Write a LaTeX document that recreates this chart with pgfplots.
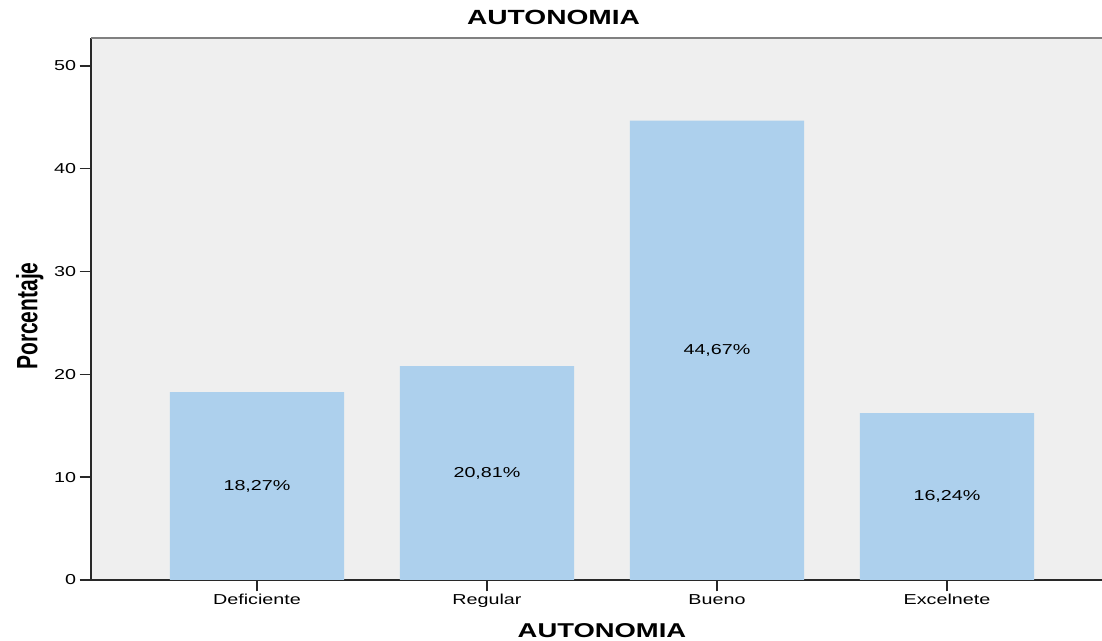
\documentclass[border=0pt]{standalone}
\usepackage{fontspec}
\setmainfont{Liberation Sans}[FakeStretch=1.37]
\newfontfamily\uprightlab{Liberation Sans}
\usepackage{pgfplots}
\usepackage{pgfplotstable}
\pgfplotsset{compat=1.18}

\definecolor{barblue}{RGB}{173,208,237}
\definecolor{panel}{RGB}{239,239,239}
\definecolor{framegray}{RGB}{128,128,128}
\definecolor{axisdark}{RGB}{40,40,40}

% Porcentaje por nivel de autonomia
\pgfplotstableread{
x cat v
0 Deficiente 18.27
1 Regular 20.81
2 Bueno 44.67
3 Excelnete 16.24
}\autonomia

\begin{document}
\begin{tikzpicture}
\path[use as bounding box] (-68.25pt,-45.75pt) rectangle (758.25pt,435pt);
\begin{axis}[
  at={(0,0)}, anchor=south west,
  scale only axis, width=758.25pt, height=406.5pt,
  xmin=-0.7217, xmax=3.674, ymin=0, ymax=52.72,
  clip=false,
  axis lines*=left,
  axis line style={-, draw=axisdark, line width=1.1pt},
  axis background/.style={fill=panel},
  xtick={0,1,2,3},
  xticklabels={Deficiente,Regular,Bueno,Excelnete},
  ytick={0,10,...,50},
  tick align=outside, major tick length=8.5pt,
  tick style={draw=axisdark, line width=1.1pt},
  /pgf/number format/assume math mode=true,
  ticklabel style={font=\fontsize{10.8pt}{12pt}\selectfont, inner sep=0pt},
  xticklabel style={anchor=base, yshift=-10.25pt},
  yticklabel style={anchor=east, xshift=-2.5pt},
  title={AUTONOMIA},
  title style={at={(axis description cs:0.4575,1)}, anchor=base, yshift=3.75pt,
    inner sep=0pt, font=\bfseries\fontsize{15.4pt}{17pt}\selectfont},
  xlabel={AUTONOMIA},
  xlabel style={at={(axis description cs:0.5054,0)}, anchor=base, yshift=-43.5pt,
    inner sep=0pt, font=\bfseries\fontsize{15pt}{17pt}\selectfont},
  ylabel={\scalebox{1}[1.4]{\uprightlab\bfseries\fontsize{15.75pt}{17pt}\selectfont Porcentaje}},
  ylabel style={at={(axis description cs:-0.0605,0.487)}, anchor=center, inner sep=0pt},
]
  % bars
  \addplot[ybar, bar width=0.757, fill=barblue, draw=none]
    table[x=x, y=v] {\autonomia};
  % percentage labels, centred in each bar
  \addplot[draw=none, mark=none, point meta=explicit,
    nodes near coords={\pgfmathprintnumber[fixed, fixed zerofill, precision=2, use comma]{\pgfplotspointmeta}\%},
    nodes near coords style={anchor=center, inner sep=0pt, text=black,
      font=\fontsize{10.8pt}{12pt}\selectfont}]
    table[x=x, y expr=\thisrow{v}/2, meta=v] {\autonomia};
  % top frame line
  \draw[framegray, line width=1.6pt] (rel axis cs:0,1) -- (rel axis cs:1,1);
\end{axis}
\end{tikzpicture}
\end{document}
